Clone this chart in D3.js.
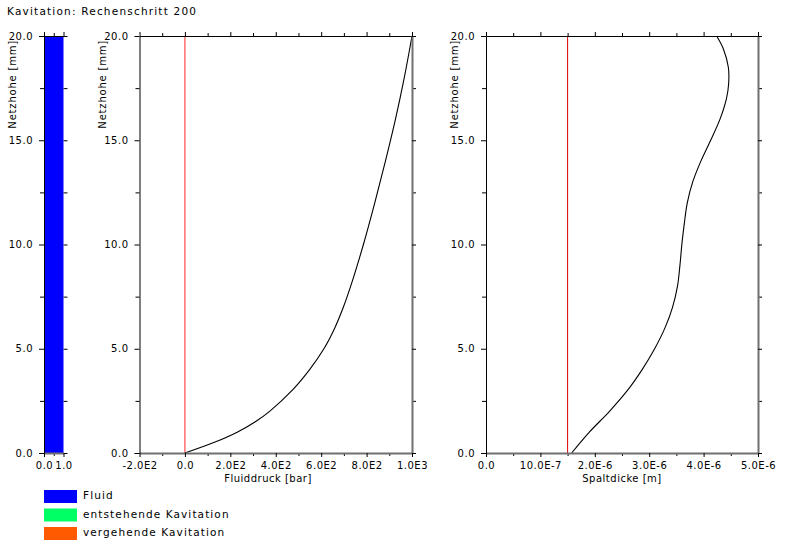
<!DOCTYPE html>
<html>
<head>
<meta charset="utf-8">
<script src="https://cdn.jsdelivr.net/npm/d3@7"></script>
<style>
  html, body { margin: 0; padding: 0; background: #fff; }
  svg { display: block; }
  text { font-family: "DejaVu Sans", sans-serif; fill: #000; }
</style>
</head>
<body>
<svg id="chart" width="785" height="540"></svg>
<script>
// ---- data -------------------------------------------------------------
const titleText = "Kavitation: Rechenschritt 200";
const yLabel = "Netzhohe [mm]";

// height (mm) axis
const heightTicks = [0, 5, 10, 15, 20];
const heightMinor = [2.5, 7.5, 12.5, 17.5];

// state column: one segment over the whole height
const stateSegments = [{ from: 0, to: 20, state: "Fluid" }];
const stateTicks = [0, 1];
const stateTickLabels = ["0.0", "1.0"];

// fluid pressure along the height
const pressureHeight = [0, 0.5, 1, 1.5, 2, 3, 4, 5, 6, 7, 8, 10, 12, 14, 16, 18, 20];
const pressureValue  = [0, 127, 230, 310, 373, 472, 549, 612, 660, 698, 730, 786, 836, 883, 927, 966, 1000];
const pressureTicks = [-200, 0, 200, 400, 600, 800, 1000];
const pressureTickLabels = ["-2.0E2", "0.0", "2.0E2", "4.0E2", "6.0E2", "8.0E2", "1.0E3"];
const pressureMinor = [-100, 100, 300, 500, 700, 900];
const pressureRef = 0;

// gap thickness along the height
const gapHeight = [0, 1, 2, 3, 4, 5, 6, 7, 8, 9, 10, 11, 12, 13, 14, 15, 16, 17, 17.7, 18.5, 19.4, 20];
const gapValue  = [1.575, 1.90, 2.27, 2.60, 2.87, 3.10, 3.29, 3.43, 3.52, 3.565, 3.60, 3.645, 3.70, 3.80, 3.95, 4.13, 4.30, 4.42, 4.46, 4.455, 4.36, 4.24].map(v => v * 1e-6);
const gapTicks = [0, 1e-6, 2e-6, 3e-6, 4e-6, 5e-6];
const gapTickLabels = ["0.0", "10.0E-7", "2.0E-6", "3.0E-6", "4.0E-6", "5.0E-6"];
const gapMinor = [0.5e-6, 1.5e-6, 2.5e-6, 3.5e-6, 4.5e-6];
const gapRef = 1.5e-6;

// legend
const legendNames  = ["Fluid", "entstehende Kavitation", "vergehende Kavitation"];
const legendColors = ["#0000ff", "#00ff64", "#ff5a00"];

// ---- drawing ----------------------------------------------------------
const svg = d3.select("#chart");
const stateColor = d3.scaleOrdinal().domain(legendNames).range(legendColors);

const yTop = 36, yBottom = 453;
const y = d3.scaleLinear().domain([0, 20]).range([yBottom, yTop]);

svg.append("text").attr("x", 7).attr("y", 15)
  .style("font-size", "10.5px").style("letter-spacing", "1.2px")
  .text(titleText);

const fmtH = d => d.toFixed(1);

function panel(x0, x1, domain, opts) {
  const x = d3.scaleLinear().domain(domain).range([x0, x1]);
  const g = svg.append("g");
  if (opts.draw) opts.draw(g, x);

  const style = (sel, color, width) => {
    sel.select(".domain").attr("stroke", color).attr("stroke-width", width);
    sel.selectAll(".tick line").attr("stroke", "#000");
    sel.selectAll("text").style("font-size", "10px").style("letter-spacing", "0.5px")
      .style("font-family", "DejaVu Sans, sans-serif");
  };

  // minor ticks
  const minorX = opts.xMinor || [];
  g.append("g").attr("transform", `translate(0,${yBottom})`)
    .call(d3.axisBottom(x).tickValues(minorX).tickSize(3).tickFormat(""))
    .call(s => s.select(".domain").remove());
  g.append("g").attr("transform", `translate(0,${yTop})`)
    .call(d3.axisTop(x).tickValues(minorX).tickSize(3).tickFormat(""))
    .call(s => s.select(".domain").remove());
  g.append("g").attr("transform", `translate(${x0},0)`)
    .call(d3.axisLeft(y).tickValues(heightMinor).tickSize(4).tickFormat(""))
    .call(s => s.select(".domain").remove());
  g.append("g").attr("transform", `translate(${x1},0)`)
    .call(d3.axisRight(y).tickValues(heightMinor).tickSize(4).tickFormat(""))
    .call(s => s.select(".domain").remove());

  // major axes
  const top = g.append("g").attr("transform", `translate(0,${yTop})`)
    .call(d3.axisTop(x).tickValues(opts.xTicks).tickSize(4).tickSizeOuter(0).tickFormat(""));
  style(top, "#000", 1);
  const right = g.append("g").attr("transform", `translate(${x1},0)`)
    .call(d3.axisRight(y).tickValues(heightTicks).tickSize(4).tickSizeOuter(0).tickFormat(""));
  style(right, opts.hideRight ? "none" : "#707070", 2);
  const bottom = g.append("g").attr("transform", `translate(0,${yBottom})`)
    .call(d3.axisBottom(x).tickValues(opts.xTicks).tickSize(4).tickSizeOuter(0).tickPadding(5)
      .tickFormat((d, i) => opts.xLabels[i]));
  style(bottom, "#707070", 2);
  const left = g.append("g").attr("transform", `translate(${x0},0)`)
    .call(d3.axisLeft(y).tickValues(heightTicks).tickSize(5).tickSizeOuter(0).tickPadding(6).tickFormat(fmtH));
  style(left, "#000", 1);

  // axis titles
  svg.append("text")
    .attr("transform", `translate(${opts.yLabelX},${yTop + 4}) rotate(-90)`)
    .attr("text-anchor", "end")
    .style("font-size", "10px").style("letter-spacing", "0.8px")
    .text(yLabel);
  if (opts.xTitle) {
    svg.append("text").attr("x", opts.xTitleX).attr("y", 482)
      .attr("text-anchor", "middle")
      .style("font-size", "10px").style("letter-spacing", "0.5px")
      .text(opts.xTitle);
  }
  return x;
}

// state column
panel(44, 63.5, [0, 1], {
  xTicks: stateTicks, xLabels: stateTickLabels, xMinor: [0.5], yLabelX: 16, hideRight: true,
  draw: (g, x) => {
    g.selectAll("rect.state").data(stateSegments).join("rect")
      .attr("x", x(0)).attr("width", x(1) - x(0))
      .attr("y", d => y(d.to)).attr("height", d => y(d.from) - y(d.to))
      .attr("fill", d => stateColor(d.state));
  }
});

// pressure profile
panel(139.5, 412, [-200, 1000], {
  xTicks: pressureTicks, xLabels: pressureTickLabels, xMinor: pressureMinor, yLabelX: 106,
  xTitle: "Fluiddruck [bar]", xTitleX: 268,
  draw: (g, x) => {
    g.append("line").attr("x1", x(pressureRef)).attr("x2", x(pressureRef))
      .attr("y1", y(0)).attr("y2", y(20)).attr("stroke", "#ff4a4a").attr("stroke-width", 1.2);
    g.append("path").datum(d3.range(pressureHeight.length))
      .attr("fill", "none").attr("stroke", "#000").attr("stroke-width", 1.1)
      .attr("d", d3.line().curve(d3.curveCatmullRom.alpha(0.5))
        .x(i => x(pressureValue[i])).y(i => y(pressureHeight[i])));
  }
});

// gap thickness profile
panel(486, 758, [0, 5e-6], {
  xTicks: gapTicks, xLabels: gapTickLabels, xMinor: gapMinor, yLabelX: 458,
  xTitle: "Spaltdicke [m]", xTitleX: 622,
  draw: (g, x) => {
    g.append("line").attr("x1", x(gapRef)).attr("x2", x(gapRef))
      .attr("y1", y(0)).attr("y2", y(20)).attr("stroke", "#dd0000").attr("stroke-width", 1);
    g.append("path").datum(d3.range(gapHeight.length))
      .attr("fill", "none").attr("stroke", "#000").attr("stroke-width", 1.1)
      .attr("d", d3.line().curve(d3.curveCatmullRom.alpha(0.5))
        .x(i => x(gapValue[i])).y(i => y(gapHeight[i])));
  }
});

// legend
const leg = svg.append("g").selectAll("g").data(legendNames).join("g")
  .attr("transform", (d, i) => `translate(44,${490 + i * 18.5})`);
leg.append("rect").attr("width", 33).attr("height", 13).attr("fill", d => stateColor(d));
leg.append("text").attr("x", 39).attr("y", 9)
  .style("font-size", "10.5px").style("letter-spacing", "1.1px")
  .text(d => d);
</script>
</body>
</html>
